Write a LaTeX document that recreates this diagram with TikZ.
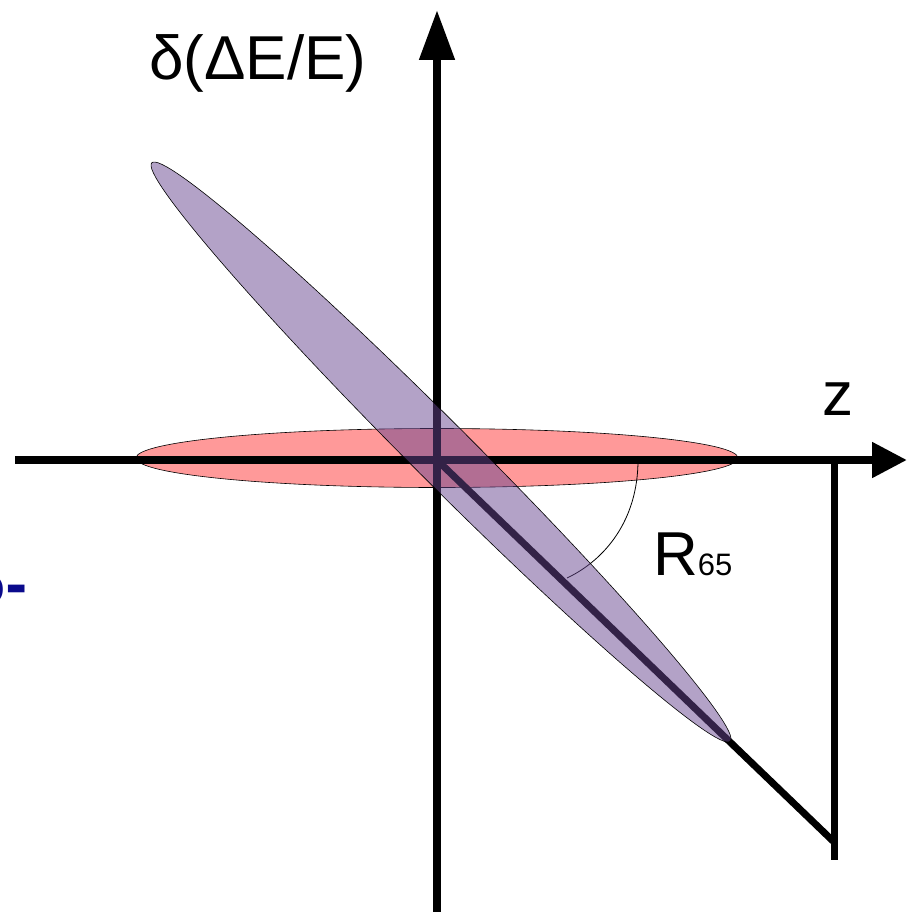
\documentclass[tikz,border=0pt]{standalone}
\usepackage{fontspec}
\setmainfont{Liberation Sans}
\newfontfamily\fragfont{DejaVu Sans}
\usetikzlibrary{arrows.meta}
\definecolor{pinkfill}{RGB}{255,153,153}
\definecolor{purplefill}{RGB}{103,69,143}
\definecolor{navyink}{RGB}{10,10,140}
\tikzset{
  axisline/.style={line width=8pt},
  beam/.style={line width=7pt},
  outline/.style={line width=0.6pt, draw=black},
  lbl/.style={inner sep=0pt, anchor=base west},
}
\begin{document}
\begin{tikzpicture}[x=1pt,y=-1pt]
\useasboundingbox (0,0) rectangle (908,912);
% coordinates
\coordinate (O) at (437,460);
\coordinate (xs) at (15,460);
\coordinate (xe) at (907,460);
\coordinate (ys) at (437,912);
\coordinate (ye) at (437,10);
\coordinate (pc) at (441,452);
\coordinate (tipP) at (730,742);
\coordinate (knee) at (834,842);
\coordinate (vtop) at (834,460);
\coordinate (vbot) at (834,860);
\coordinate (arcA) at (638,460);
\coordinate (arcB) at (567,578);
% red ellipse
\fill[pinkfill] (437,458) ellipse [x radius=301pt, y radius=29.5pt];
\draw[outline] (437,458) ellipse [x radius=301pt, y radius=29.5pt];
% axes
\draw[axisline, -{Triangle[length=35pt,width=34pt]}] (xs) -- (xe);
\draw[axisline, -{Triangle[length=50pt,width=34pt]}] (ys) -- (ye);
% thick line
\draw[beam, line join=miter] (O) -- (tipP) -- (knee);
\draw[beam] (vtop) -- (vbot);
% arc
\draw[line width=0.8pt] (arcA) .. controls (638,520) and (605,560) .. (arcB);
% purple ellipse
\fill[purplefill, fill opacity=0.5, rotate around={-45:(pc)}] (pc) ellipse [x radius=409pt, y radius=30pt];
\draw[outline, rotate around={-45:(pc)}] (pc) ellipse [x radius=409pt, y radius=30pt];
% labels
\node[lbl, font=\fontsize{62}{62}\selectfont] (dlab) at (149,80) {δ(ΔE/E)};
\node[lbl, font=\fontsize{62}{62}\selectfont] (zlab) at (822,415) {z};
\node[lbl] (rlab) at (653,575) {\fontsize{62}{62}\selectfont R\fontsize{31}{31}\selectfont 65};
\node[lbl, text=navyink, font=\fragfont\bfseries\fontsize{54}{54}\selectfont] (frag) at (-32,604) {o-};
\end{tikzpicture}
\end{document}
